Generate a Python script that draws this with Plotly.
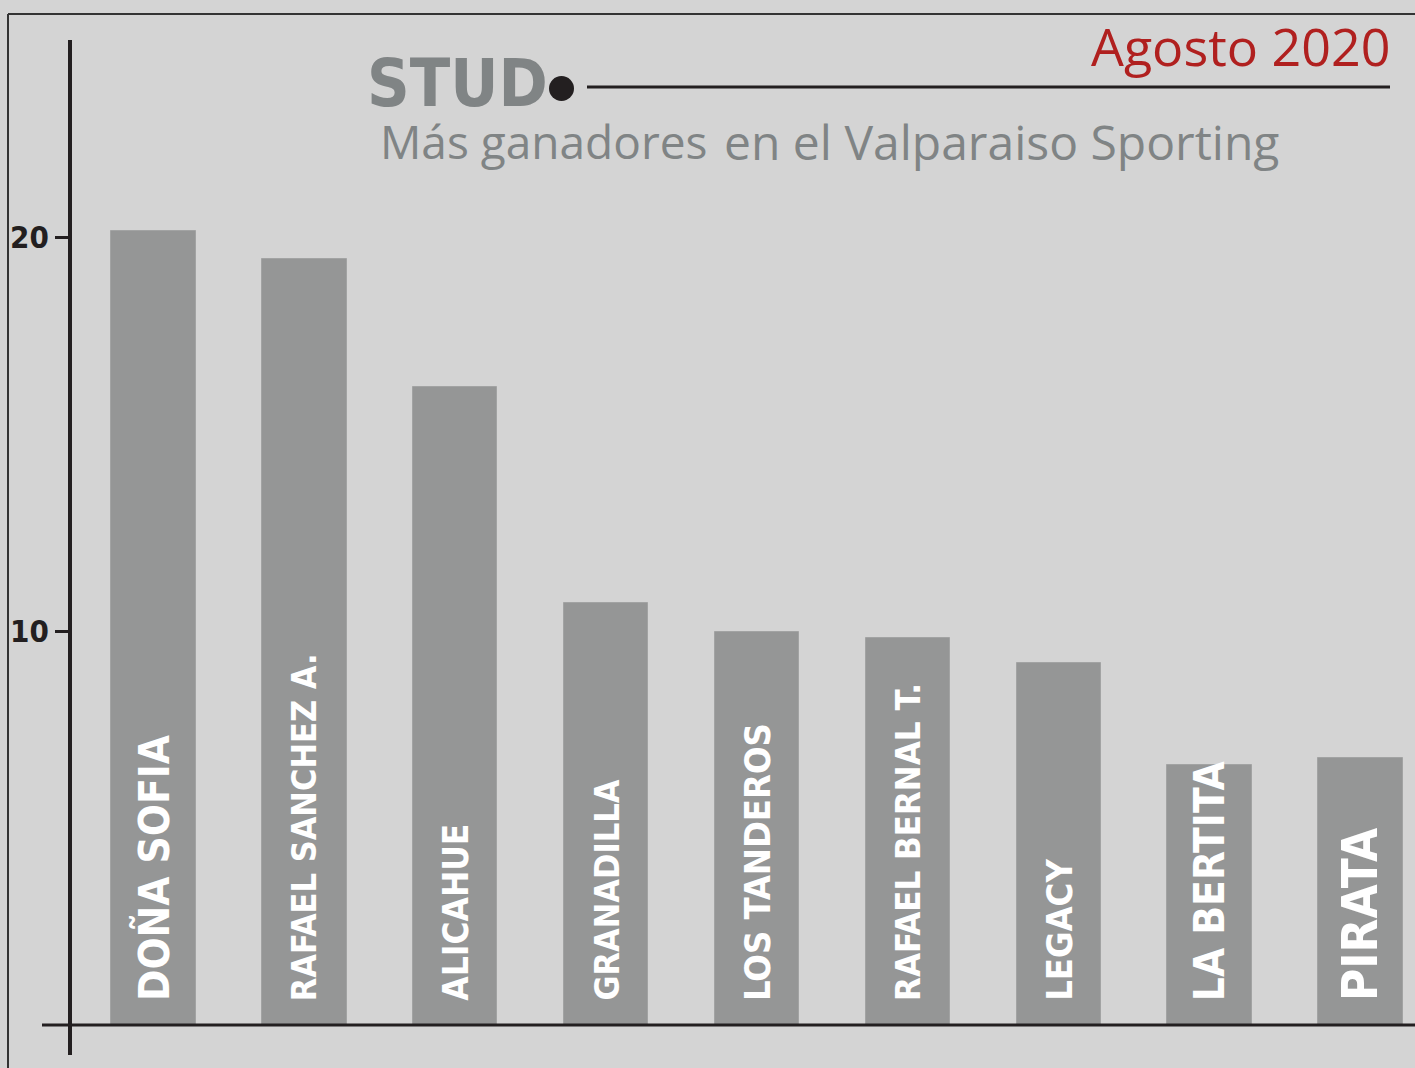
import plotly.graph_objects as go

# ---- data ----
studs = ["DOÑA SOFIA", "RAFAEL SANCHEZ A.", "ALICAHUE", "GRANADILLA", "LOS TANDEROS",
         "RAFAEL BERNAL T.", "LEGACY", "LA BERTITA", "PIRATA"]
ganadores = [20.15, 19.45, 16.2, 10.7, 9.97, 9.82, 9.2, 6.6, 6.78]
y_ticks = [10, 20]
title_main = "STUD"
subtitle_a = "Más ganadores"
subtitle_b = "en el Valparaiso Sporting"
date_text = "Agosto 2020"

# ---- label styling ----
label_sizes = [42, 34, 35, 34, 36, 34.5, 36, 42, 49]

W, H = 1415, 1068
L, R, T, B = 70, 0, 40, 43
PW, PH = W - L - R, H - T - B


def X(px):
    return (px - L) / PW


def Y(py):
    return (H - B - py) / PH


BG = "#d4d4d4"
BAR = "#959696"
INK = "#231f20"
GRAY = "#808485"
COND = "DejaVu Sans Condensed, Liberation Sans Narrow, sans-serif"
SANS = "Open Sans, Lato, sans-serif"

fig = go.Figure()
fig.add_trace(go.Bar(
    x=list(range(len(studs))), y=ganadores,
    marker=dict(color=BAR, line=dict(color="#a2a3a3", width=1)),
    width=0.56, hoverinfo="skip", showlegend=False,
))

annotations = []
for i, (name, sz) in enumerate(zip(studs, label_sizes)):
    annotations.append(dict(
        x=i, y=0, xref="x", yref="y", text=name, showarrow=False,
        textangle=-90, xanchor="center", yanchor="bottom", yshift=22,
        font=dict(family=COND, size=sz, color="white", weight="bold"),
    ))

annotations += [
    dict(x=X(365), y=Y(84), xref="paper", yref="paper", text=title_main,
         showarrow=False, xanchor="left", yanchor="middle",
         font=dict(family=COND, size=66, color=GRAY, weight="bold")),
    dict(x=X(378), y=Y(141), xref="paper", yref="paper", text=subtitle_a,
         showarrow=False, xanchor="left", yanchor="middle",
         font=dict(family=SANS, size=46, color=GRAY, weight=500)),
    dict(x=X(722), y=Y(141), xref="paper", yref="paper", text=subtitle_b,
         showarrow=False, xanchor="left", yanchor="middle",
         font=dict(family=SANS, size=48, color=GRAY, weight=400)),
    dict(x=X(1392), y=Y(46), xref="paper", yref="paper", text=date_text,
         showarrow=False, xanchor="right", yanchor="middle",
         font=dict(family=SANS, size=52, color="#b0201f", weight=500)),
]

shapes = [
    # frame (top and left border)
    dict(type="line", xref="paper", yref="paper", x0=X(8), x1=X(W + 5), y0=Y(14), y1=Y(14),
         line=dict(color="#333333", width=2)),
    dict(type="line", xref="paper", yref="paper", x0=X(8), x1=X(8), y0=Y(14), y1=Y(H + 5),
         line=dict(color="#333333", width=2)),
    # y axis line
    dict(type="line", xref="paper", yref="paper", x0=X(70), x1=X(70), y0=Y(40), y1=Y(1055),
         line=dict(color=INK, width=4)),
    # x axis line
    dict(type="line", xref="paper", yref="paper", x0=X(42), x1=X(W + 5), y0=Y(1025), y1=Y(1025),
         line=dict(color=INK, width=3)),
    # title rule and dot
    dict(type="line", xref="paper", yref="paper", x0=X(587), x1=X(1390), y0=Y(87), y1=Y(87),
         line=dict(color=INK, width=3)),
    dict(type="circle", xref="paper", yref="paper", x0=X(549), x1=X(574), y0=Y(76), y1=Y(101),
         fillcolor=INK, line=dict(width=0)),
]

fig.update_layout(
    width=W, height=H,
    margin=dict(l=L, r=R, t=T, b=B, pad=0),
    paper_bgcolor=BG, plot_bgcolor=BG,
    bargap=0,
    xaxis=dict(range=[(L - 153.4) / 150.9, (W - R - 153.4) / 150.9], showgrid=False,
               zeroline=False, showticklabels=False, ticks="", showline=False),
    yaxis=dict(range=[0, 25], tickvals=y_ticks, ticktext=[str(v) for v in y_ticks],
               showgrid=False, zeroline=False, showline=False,
               ticks="outside", ticklen=14, tickwidth=3, tickcolor=INK,
               tickfont=dict(family=COND, size=31, color=INK, weight="bold")),
    annotations=annotations,
    shapes=shapes,
)

fig.write_html(
    "out.html",
    config={"displayModeBar": False},
    post_script="document.body.style.margin='0';document.body.style.overflow='hidden';"
                "document.body.style.background='" + BG + "';",
)
